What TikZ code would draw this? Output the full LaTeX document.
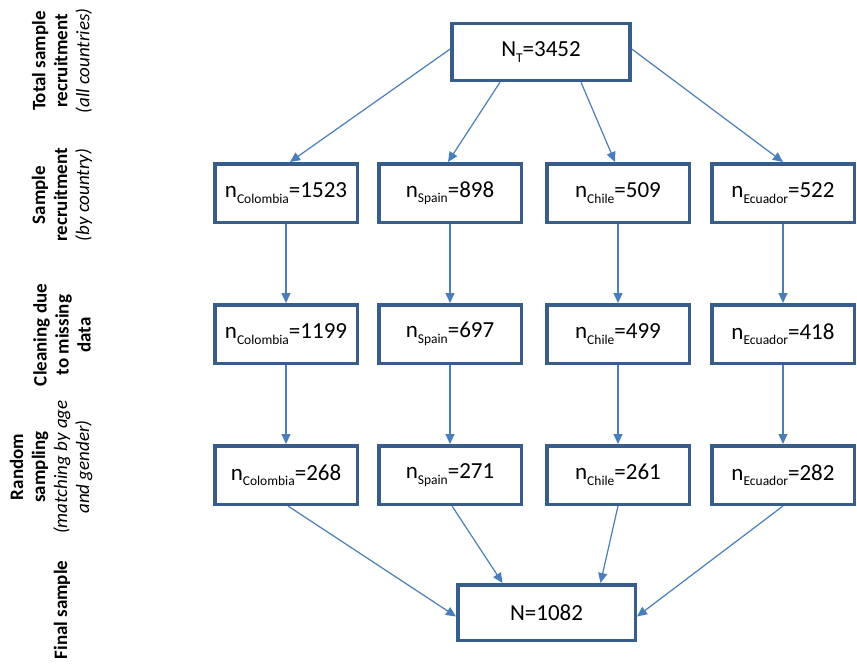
\documentclass[tikz,border=0pt]{standalone}
\usepackage{fontspec}
\setmainfont{Carlito}
\usetikzlibrary{arrows.meta}
\definecolor{boxc}{HTML}{385D8A}
\definecolor{arrc}{HTML}{4A7EBB}
\tikzset{
  cbox/.style={draw=boxc, line width=3.5pt, fill=white, minimum width=142.5pt, minimum height=58.5pt, inner sep=0pt, font=\fontsize{23}{27}\selectfont},
  bigbox/.style={cbox, minimum width=178pt, minimum height=57pt},
  conn/.style={draw=arrc, line width=1.2pt, -{Triangle[length=10pt,width=9pt]}},
  lbl/.style={rotate=90, align=center, font=\fontsize{19}{22}\selectfont, inner sep=0pt}
}
\newcommand{\sbx}[1]{\raisebox{-0.24em}{\fontsize{13.5}{13.5}\selectfont #1}}
\newcommand{\nsub}[2]{n\sbx{#1}=#2}
\begin{document}
\begin{tikzpicture}[x=1pt,y=-1pt]
\useasboundingbox (0,0) rectangle (857,665);
% left labels
\node[lbl] (l1) at (62,61) {\textbf{Total sample}\\\textbf{recruitment}\\\textit{(all countries)}};
\node[lbl] (l2) at (62,195) {\textbf{Sample}\\\textbf{recruitment}\\\textit{(by country)}};
\node[lbl] (l3) at (62,335) {\textbf{Cleaning due}\\\textbf{to missing}\\\textbf{data}};
\node[lbl] (l4) at (51,467) {\textbf{Random}\\\textbf{sampling}\\\textit{(matching by age}\\\textit{and gender)}};
\node[lbl] (l5) at (62,610) {\textbf{Final sample}};
% boxes
\node[bigbox] (top) at (541,52) {N\sbx{T}=3452};
\node[cbox] (c1) at (286,193) {\nsub{Colombia}{1523}};
\node[cbox] (s1) at (450,193) {\nsub{Spain}{898}};
\node[cbox] (h1) at (618,193) {\nsub{Chile}{509}};
\node[cbox] (e1) at (783,193) {\nsub{Ecuador}{522}};
\node[cbox] (c2) at (286,334) {\nsub{Colombia}{1199}};
\node[cbox] (s2) at (450,334) {\nsub{Spain}{697}};
\node[cbox] (h2) at (618,334) {\nsub{Chile}{499}};
\node[cbox] (e2) at (783,334) {\nsub{Ecuador}{418}};
\node[cbox] (c3) at (286,475) {\nsub{Colombia}{268}};
\node[cbox] (s3) at (450,475) {\nsub{Spain}{271}};
\node[cbox] (h3) at (618,475) {\nsub{Chile}{261}};
\node[cbox] (e3) at (783,475) {\nsub{Ecuador}{282}};
\node[bigbox, minimum width=177.5pt, minimum height=55.5pt] (fin) at (546.5,612.5) {N=1082};
% connectors
\draw[conn] ([yshift=3pt]top.west) -- ([xshift=4pt]c1.north);
\draw[conn] ([xshift=-41pt]top.south) -- ([xshift=-2pt]s1.north);
\draw[conn] ([xshift=40pt]top.south) -- ([xshift=-3pt]h1.north);
\draw[conn] ([yshift=3pt]top.east) -- (e1.north);
\foreach \k in {c,s,h,e}{
  \draw[conn] (\k1.south) -- (\k2.north);
  \draw[conn] (\k2.south) -- (\k3.north);
}
\draw[conn] ([xshift=2pt]c3.south) -- ([yshift=-4pt]fin.west);
\draw[conn] ([xshift=2pt]s3.south) -- ([xshift=-44pt]fin.north);
\draw[conn] (h3.south) -- ([xshift=54pt]fin.north);
\draw[conn] (e3.south) -- ([yshift=-4pt]fin.east);
\end{tikzpicture}
\end{document}
